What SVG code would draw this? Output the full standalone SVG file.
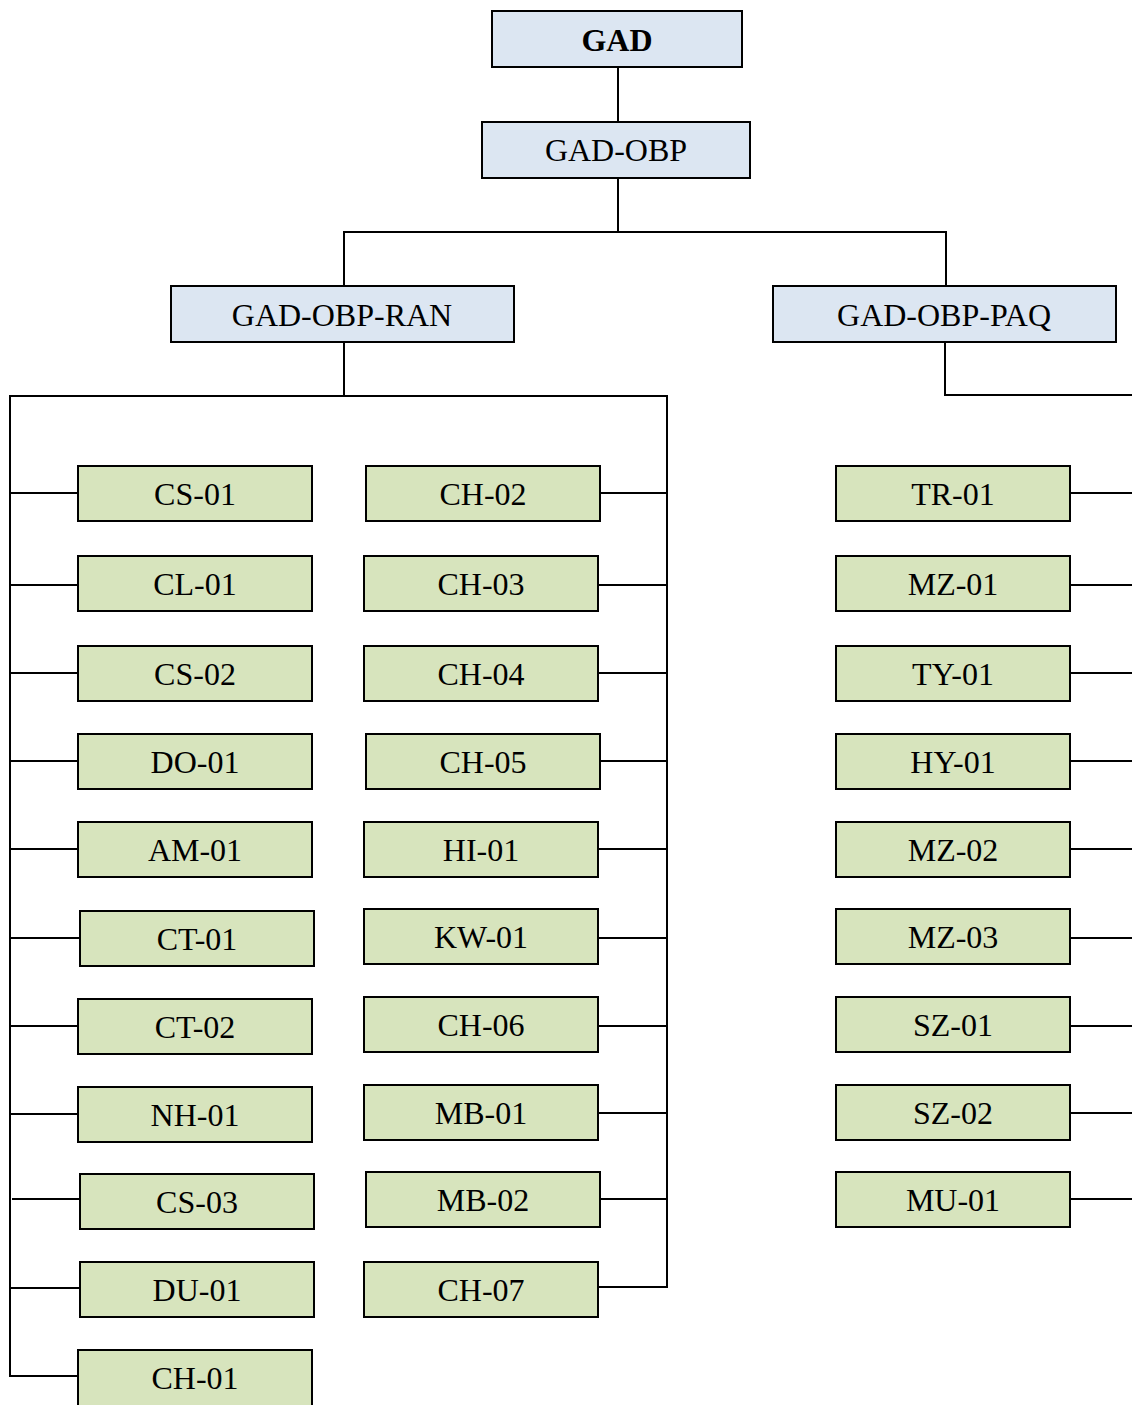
<svg xmlns="http://www.w3.org/2000/svg" width="1132" height="1405" viewBox="0 0 1132 1405">
<style>
.b rect{fill:#dce6f2;stroke:#000;stroke-width:2}
.g rect{fill:#d7e4bd;stroke:#000;stroke-width:2}
text{font-family:"Liberation Serif","Times New Roman",serif;font-size:32px;fill:#000;text-anchor:middle;dominant-baseline:central}
.c line{stroke:#000;stroke-width:2}
</style>
<rect width="1132" height="1405" fill="#fff"/>
<g class="c" id="connectors">
<line x1="618" y1="67" x2="618" y2="122"/>
<line x1="618" y1="178" x2="618" y2="232"/>
<line x1="343" y1="232" x2="947" y2="232"/>
<line x1="344" y1="232" x2="344" y2="286"/>
<line x1="946" y1="232" x2="946" y2="286"/>
<line x1="344" y1="342" x2="344" y2="397"/>
<line x1="9" y1="396" x2="668" y2="396"/>
<line x1="10" y1="395" x2="10" y2="1377"/>
<line x1="667" y1="395" x2="667" y2="1288"/>
<line x1="945" y1="342" x2="945" y2="396"/>
<line x1="944" y1="395" x2="1132" y2="395"/>
<line x1="10" y1="493" x2="78" y2="493"/>
<line x1="10" y1="585" x2="78" y2="585"/>
<line x1="10" y1="673" x2="78" y2="673"/>
<line x1="10" y1="761" x2="78" y2="761"/>
<line x1="10" y1="849" x2="78" y2="849"/>
<line x1="10" y1="938" x2="80" y2="938"/>
<line x1="10" y1="1026" x2="78" y2="1026"/>
<line x1="10" y1="1114" x2="78" y2="1114"/>
<line x1="12" y1="1199" x2="80" y2="1199"/>
<line x1="10" y1="1288" x2="80" y2="1288"/>
<line x1="10" y1="1376" x2="78" y2="1376"/>
<line x1="600" y1="493" x2="667" y2="493"/>
<line x1="598" y1="585" x2="667" y2="585"/>
<line x1="598" y1="673" x2="667" y2="673"/>
<line x1="600" y1="761" x2="667" y2="761"/>
<line x1="598" y1="849" x2="667" y2="849"/>
<line x1="598" y1="938" x2="667" y2="938"/>
<line x1="598" y1="1026" x2="667" y2="1026"/>
<line x1="598" y1="1113" x2="667" y2="1113"/>
<line x1="600" y1="1199" x2="667" y2="1199"/>
<line x1="598" y1="1287" x2="667" y2="1287"/>
<line x1="1070" y1="493" x2="1132" y2="493"/>
<line x1="1070" y1="585" x2="1132" y2="585"/>
<line x1="1070" y1="673" x2="1132" y2="673"/>
<line x1="1070" y1="761" x2="1132" y2="761"/>
<line x1="1070" y1="849" x2="1132" y2="849"/>
<line x1="1070" y1="938" x2="1132" y2="938"/>
<line x1="1070" y1="1026" x2="1132" y2="1026"/>
<line x1="1070" y1="1113" x2="1132" y2="1113"/>
<line x1="1070" y1="1199" x2="1132" y2="1199"/>
</g>
<g class="b" id="n-GAD"><rect x="492" y="11" width="250" height="56"/><text x="617" y="40" font-weight="bold">GAD</text></g>
<g class="b" id="n-GAD-OBP"><rect x="482" y="122" width="268" height="56"/><text x="616" y="150">GAD-OBP</text></g>
<g class="b" id="n-RAN"><rect x="171" y="286" width="343" height="56"/><text x="342" y="315">GAD-OBP-RAN</text></g>
<g class="b" id="n-PAQ"><rect x="773" y="286" width="343" height="56"/><text x="944" y="315">GAD-OBP-PAQ</text></g>
<g class="g" id="n-CS-01"><rect x="78" y="466" width="234" height="55"/><text x="195" y="494">CS-01</text></g>
<g class="g" id="n-CL-01"><rect x="78" y="556" width="234" height="55"/><text x="195" y="584">CL-01</text></g>
<g class="g" id="n-CS-02"><rect x="78" y="646" width="234" height="55"/><text x="195" y="674">CS-02</text></g>
<g class="g" id="n-DO-01"><rect x="78" y="734" width="234" height="55"/><text x="195" y="762">DO-01</text></g>
<g class="g" id="n-AM-01"><rect x="78" y="822" width="234" height="55"/><text x="195" y="850">AM-01</text></g>
<g class="g" id="n-CT-01"><rect x="80" y="911" width="234" height="55"/><text x="197" y="939">CT-01</text></g>
<g class="g" id="n-CT-02"><rect x="78" y="999" width="234" height="55"/><text x="195" y="1027">CT-02</text></g>
<g class="g" id="n-NH-01"><rect x="78" y="1087" width="234" height="55"/><text x="195" y="1115">NH-01</text></g>
<g class="g" id="n-CS-03"><rect x="80" y="1174" width="234" height="55"/><text x="197" y="1202">CS-03</text></g>
<g class="g" id="n-DU-01"><rect x="80" y="1262" width="234" height="55"/><text x="197" y="1290">DU-01</text></g>
<g class="g" id="n-CH-01"><rect x="78" y="1350" width="234" height="60"/><text x="195" y="1378">CH-01</text></g>
<g class="g" id="n-CH-02"><rect x="366" y="466" width="234" height="55"/><text x="483" y="494">CH-02</text></g>
<g class="g" id="n-CH-03"><rect x="364" y="556" width="234" height="55"/><text x="481" y="584">CH-03</text></g>
<g class="g" id="n-CH-04"><rect x="364" y="646" width="234" height="55"/><text x="481" y="674">CH-04</text></g>
<g class="g" id="n-CH-05"><rect x="366" y="734" width="234" height="55"/><text x="483" y="762">CH-05</text></g>
<g class="g" id="n-HI-01"><rect x="364" y="822" width="234" height="55"/><text x="481" y="850">HI-01</text></g>
<g class="g" id="n-KW-01"><rect x="364" y="909" width="234" height="55"/><text x="481" y="937">KW-01</text></g>
<g class="g" id="n-CH-06"><rect x="364" y="997" width="234" height="55"/><text x="481" y="1025">CH-06</text></g>
<g class="g" id="n-MB-01"><rect x="364" y="1085" width="234" height="55"/><text x="481" y="1113">MB-01</text></g>
<g class="g" id="n-MB-02"><rect x="366" y="1172" width="234" height="55"/><text x="483" y="1200">MB-02</text></g>
<g class="g" id="n-CH-07"><rect x="364" y="1262" width="234" height="55"/><text x="481" y="1290">CH-07</text></g>
<g class="g" id="n-TR-01"><rect x="836" y="466" width="234" height="55"/><text x="953" y="494">TR-01</text></g>
<g class="g" id="n-MZ-01"><rect x="836" y="556" width="234" height="55"/><text x="953" y="584">MZ-01</text></g>
<g class="g" id="n-TY-01"><rect x="836" y="646" width="234" height="55"/><text x="953" y="674">TY-01</text></g>
<g class="g" id="n-HY-01"><rect x="836" y="734" width="234" height="55"/><text x="953" y="762">HY-01</text></g>
<g class="g" id="n-MZ-02"><rect x="836" y="822" width="234" height="55"/><text x="953" y="850">MZ-02</text></g>
<g class="g" id="n-MZ-03"><rect x="836" y="909" width="234" height="55"/><text x="953" y="937">MZ-03</text></g>
<g class="g" id="n-SZ-01"><rect x="836" y="997" width="234" height="55"/><text x="953" y="1025">SZ-01</text></g>
<g class="g" id="n-SZ-02"><rect x="836" y="1085" width="234" height="55"/><text x="953" y="1113">SZ-02</text></g>
<g class="g" id="n-MU-01"><rect x="836" y="1172" width="234" height="55"/><text x="953" y="1200">MU-01</text></g>
</svg>
